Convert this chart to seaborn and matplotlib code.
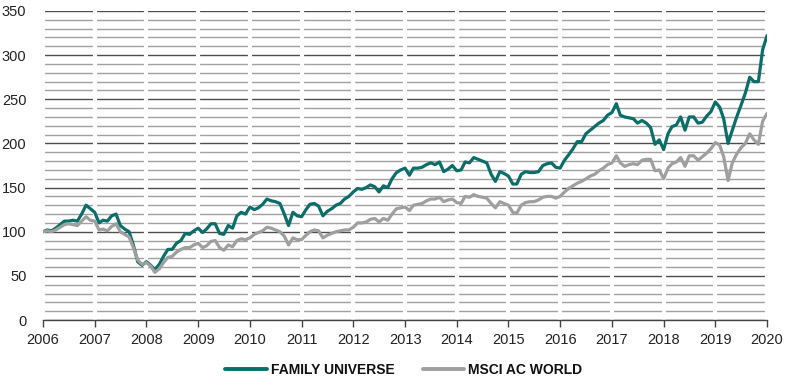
import numpy as np
import pandas as pd
import matplotlib
matplotlib.use("Agg")
import matplotlib.pyplot as plt
from matplotlib.ticker import MultipleLocator
from matplotlib.lines import Line2D
import seaborn as sns

# ---- data (monthly index, Jan 2006 = 100) ----
start_month = "2006-01-01"
n_months = 169
series_names = ["FAMILY UNIVERSE", "MSCI AC WORLD"]
family_universe = [
    100, 102, 101, 104, 108, 112, 112, 113, 112, 120, 130, 126,
    122, 110, 113, 112, 118, 120, 107, 103, 100, 85, 66, 62,
    66, 62, 57, 63, 72, 80, 80, 87, 90, 98, 97, 101,
    104, 99, 103, 109, 109, 98, 97, 107, 104, 118, 122, 120,
    128, 125, 127, 131, 137, 135, 134, 132, 120, 107, 122, 118,
    117, 125, 131, 132, 129, 118, 123, 126, 130, 132, 137, 140,
    145, 149, 148, 150, 153, 151, 145, 152, 150, 160, 167, 170,
    172, 164, 172, 172, 173, 176, 178, 176, 179, 168, 171, 175,
    169, 170, 179, 178, 184, 182, 180, 178, 165, 157, 168, 166,
    163, 154, 154, 165, 168, 167, 167, 168, 175, 177, 178, 173,
    172, 181, 187, 194, 202, 202, 211, 215, 219, 223, 226, 232,
    235, 245, 232, 230, 229, 228, 223, 226, 223, 218, 199, 204,
    193, 211, 219, 221, 230, 215, 230, 230, 223, 224, 231, 236,
    247, 241, 228, 200, 215, 230, 243, 257, 275, 270, 270, 306,
    322,
]
msci_ac_world = [
    100, 101, 100, 102, 105, 108, 109, 108, 107, 112, 117, 113,
    112, 102, 103, 101, 106, 109, 100, 97, 94, 82, 68, 63,
    65, 61, 54, 58, 65, 71, 72, 77, 80, 82, 82, 85,
    87, 82, 84, 89, 90, 82, 79, 85, 83, 90, 92, 91,
    93, 97, 99, 101, 105, 104, 102, 100, 95, 85, 93, 91,
    91, 96, 100, 102, 101, 93, 96, 98, 100, 101, 102, 102,
    105, 110, 110, 111, 114, 115, 111, 115, 113, 120, 126, 127,
    128, 124, 130, 131, 132, 135, 137, 137, 139, 134, 136, 137,
    133, 132, 140, 139, 142, 140, 139, 138, 132, 127, 134, 132,
    130, 122, 121, 130, 133, 134, 134, 136, 139, 140, 140, 138,
    140, 145, 149, 152, 155, 157, 160, 163, 165, 169, 172, 176,
    178, 186, 178, 174, 176, 177, 176, 181, 182, 182, 169, 170,
    160, 172, 177, 179, 184, 174, 186, 186, 181, 185, 189, 194,
    201, 198, 185, 158, 178, 188, 195, 200, 211, 204, 199, 225,
    234,
]
y_ticks = [0, 50, 100, 150, 200, 250, 300, 350]
x_years = list(range(2006, 2021))

dates = pd.date_range(start_month, periods=n_months, freq="MS")
df = pd.DataFrame({
    "date": np.concatenate([dates, dates]),
    "value": family_universe + msci_ac_world,
    "series": [series_names[0]] * n_months + [series_names[1]] * n_months,
})

sns.set_theme(style="white")
plt.rcParams["font.family"] = ["Liberation Sans", "DejaVu Sans"]

fig = plt.figure(figsize=(7.92, 3.84), dpi=100)
ax = fig.add_axes([43 / 792, 1 - 320 / 384, (767 - 43) / 792, (320 - 11) / 384])

palette = {series_names[0]: "#0b6e69", series_names[1]: "#9f9f9f"}
sns.lineplot(data=df, x="date", y="value", hue="series", palette=palette,
             linewidth=2.3, ax=ax, legend=False, zorder=3)

ax.set_ylim(0, 350)
ax.set_xlim(pd.Timestamp("2006-01-01"), pd.Timestamp("2020-01-01"))
ax.yaxis.set_major_locator(MultipleLocator(50))
ax.yaxis.set_minor_locator(MultipleLocator(10))
ax.set_yticks(y_ticks)
ax.set_xticks([pd.Timestamp(f"{y}-01-01") for y in x_years])
ax.set_xticklabels([str(y) for y in x_years])

ax.grid(False)
ax.set_axisbelow(True)
ax.yaxis.grid(True, which="major", color="#4d4d4d", linewidth=1.0, zorder=0.5)
ax.yaxis.grid(True, which="minor", color="#a0a0a0", linewidth=1.0, zorder=0.5)
for y in x_years:
    ax.axvline(pd.Timestamp(f"{y}-01-01"), color="white", linewidth=3.0, zorder=1)

for s in ["left", "right", "top"]:
    ax.spines[s].set_visible(False)
ax.spines["bottom"].set_color("#444444")
ax.spines["bottom"].set_linewidth(1.0)
ax.spines["bottom"].set_zorder(4)

ax.tick_params(axis="y", which="both", length=0, pad=12, labelsize=10.5, labelcolor="#222222")
ax.tick_params(axis="x", which="major", length=5, width=1, color="#444444",
               direction="out", pad=4, labelsize=10.5, labelcolor="#222222", bottom=True)
ax.tick_params(axis="x", which="minor", length=0)
ax.set_xlabel("")
ax.set_ylabel("")

handles = [Line2D([0], [0], color=palette[n], linewidth=2.8) for n in series_names]
leg = fig.legend(handles, series_names, loc="center", bbox_to_anchor=(0.51, 0.036),
                 ncol=2, frameon=False, handlelength=3.0, handletextpad=0.3,
                 columnspacing=2.0, prop={"weight": "bold", "size": 10})
for t in leg.get_texts():
    t.set_color("#111111")

fig.savefig("out.png", dpi=100)
